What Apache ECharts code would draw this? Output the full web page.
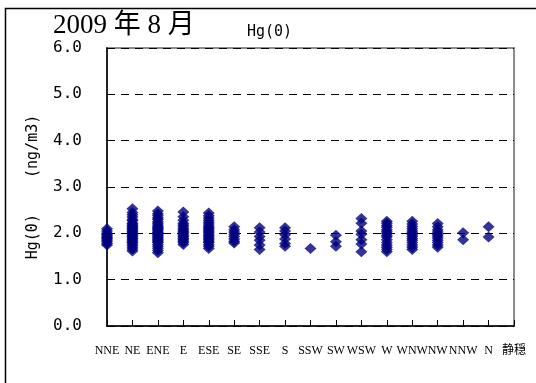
<!DOCTYPE html>
<html>
<head>
<meta charset="utf-8">
<script src="https://cdn.jsdelivr.net/npm/echarts@6/dist/echarts.min.js"></script>
<style>
  html, body { margin: 0; padding: 0; background: #fff; }
  #main { width: 536px; height: 383px; }
</style>
</head>
<body>
<div id="main"></div>
<script type="text/javascript">
// 風向カテゴリ
var categories = ['NNE', 'NE', 'ENE', 'E', 'ESE', 'SE', 'SSE', 'S', 'SSW', 'SW', 'WSW', 'W', 'WNW', 'NW', 'NNW', 'N', '静穏'];
var yTicks = [0, 1, 2, 3, 4, 5, 6];

// Hg(0) (ng/m3) 風向別
var hgNNE = [2.10, 2.05, 2.00, 1.98, 1.95, 1.92, 1.90, 1.88, 1.85, 1.82, 1.78, 1.75];
var hgNE  = [2.53, 2.45, 2.40, 2.35, 2.30, 2.27, 2.22, 2.20, 2.17, 2.15, 2.12, 2.10, 2.08, 2.05, 2.03, 2.00,
             1.98, 1.95, 1.93, 1.90, 1.88, 1.85, 1.82, 1.80, 1.77, 1.74, 1.70, 1.66, 1.62];
var hgENE = [2.48, 2.42, 2.38, 2.33, 2.30, 2.25, 2.22, 2.18, 2.15, 2.12, 2.10, 2.07, 2.05, 2.02, 2.00,
             1.97, 1.95, 1.92, 1.90, 1.87, 1.85, 1.82, 1.80, 1.76, 1.72, 1.68, 1.63, 1.58];
var hgE   = [2.46, 2.36, 2.28, 2.22, 2.18, 2.14, 2.10, 2.07, 2.04, 2.01, 1.98, 1.95, 1.92, 1.89, 1.86, 1.83, 1.80, 1.76];
var hgESE = [2.44, 2.38, 2.33, 2.28, 2.24, 2.20, 2.16, 2.13, 2.10, 2.07, 2.04, 2.01, 1.98, 1.95, 1.92,
             1.89, 1.86, 1.83, 1.80, 1.76, 1.72, 1.67];
var hgSE  = [2.14, 2.08, 2.03, 1.98, 1.93, 1.88, 1.83, 1.79];
var hgSSE = [2.12, 2.03, 1.93, 1.85, 1.75, 1.65];
var hgS   = [2.12, 2.05, 1.97, 1.88, 1.78, 1.72];
var hgSSW = [1.67];
var hgSW  = [1.96, 1.82, 1.72];
var hgWSW = [2.32, 2.22, 2.05, 1.98, 1.86, 1.77, 1.60];
var hgW   = [2.26, 2.22, 2.17, 2.13, 2.08, 2.04, 2.00, 1.96, 1.92, 1.86, 1.80, 1.75, 1.70, 1.65, 1.60];
var hgWNW = [2.26, 2.20, 2.15, 2.10, 2.05, 2.01, 1.97, 1.93, 1.89, 1.85, 1.80, 1.75, 1.70, 1.65];
var hgNW  = [2.21, 2.14, 2.08, 2.03, 1.98, 1.94, 1.90, 1.85, 1.80, 1.75, 1.70];
var hgNNW = [2.01, 1.86];
var hgN   = [2.14, 1.92];
var hgCalm = [];

var byDir = [hgNNE, hgNE, hgENE, hgE, hgESE, hgSE, hgSSE, hgS, hgSSW, hgSW, hgWSW, hgW, hgWNW, hgNW, hgNNW, hgN, hgCalm];

var points = [];
byDir.forEach(function (vals, i) {
    vals.forEach(function (v) { points.push([categories[i], v]); });
});

var myChart = echarts.init(document.getElementById('main'));
var option = {
    animation: false,
    backgroundColor: '#fff',
    title: [
        {
            text: '2009 年 8 月',
            left: 53, top: 12, padding: 0,
            textStyle: { fontFamily: "'Liberation Serif', 'Noto Sans CJK JP', serif", fontSize: 27, fontWeight: 'normal', color: '#000' }
        },
        {
            text: 'Hg(0)',
            left: 247, top: 25, padding: 0,
            textStyle: { fontFamily: "'DejaVu Sans Mono', monospace", fontSize: 15, fontWeight: 'normal', color: '#000' }
        }
    ],
    graphic: [{
        type: 'rect',
        shape: { x: 5.5, y: 8.5, width: 700, height: 700 },
        style: { fill: 'none', stroke: '#000', lineWidth: 1.5 },
        silent: true
    }],
    grid: {
        left: 107, top: 48, right: 22, bottom: 57,
        show: true, borderColor: '#8c8c8c', borderWidth: 2
    },
    xAxis: {
        type: 'category',
        data: categories,
        boundaryGap: false,
        axisLine: { lineStyle: { color: '#000', width: 1.5 } },
        axisTick: { inside: true, length: 6, interval: 0, lineStyle: { color: '#000' } },
        axisLabel: {
            interval: 0, margin: 19, color: '#000',
            fontFamily: "'Liberation Serif', 'Noto Sans CJK JP', serif", fontSize: 12
        },
        splitLine: { show: false }
    },
    yAxis: {
        type: 'value',
        min: yTicks[0], max: yTicks[yTicks.length - 1], interval: 1,
        name: 'Hg(0)    (ng/m3)',
        nameLocation: 'middle',
        nameGap: 66,
        nameTextStyle: { fontFamily: "'DejaVu Sans Mono', monospace", fontSize: 15, color: '#000' },
        axisLine: { show: true, lineStyle: { color: '#000', width: 1.5 } },
        axisTick: { show: true, inside: true, length: 5, lineStyle: { color: '#000' } },
        axisLabel: {
            margin: 25, color: '#000',
            fontFamily: "'DejaVu Sans Mono', monospace", fontSize: 16,
            formatter: function (v) { return v.toFixed(1); }
        },
        splitLine: { show: true, lineStyle: { color: '#000', width: 1, type: [8, 6] } }
    },
    series: [{
        name: 'Hg(0)',
        type: 'scatter',
        symbol: 'diamond',
        symbolSize: [12, 11],
        itemStyle: { color: '#000080' },
        data: points
    }]
};

myChart.setOption(option);
</script>
</body>
</html>
